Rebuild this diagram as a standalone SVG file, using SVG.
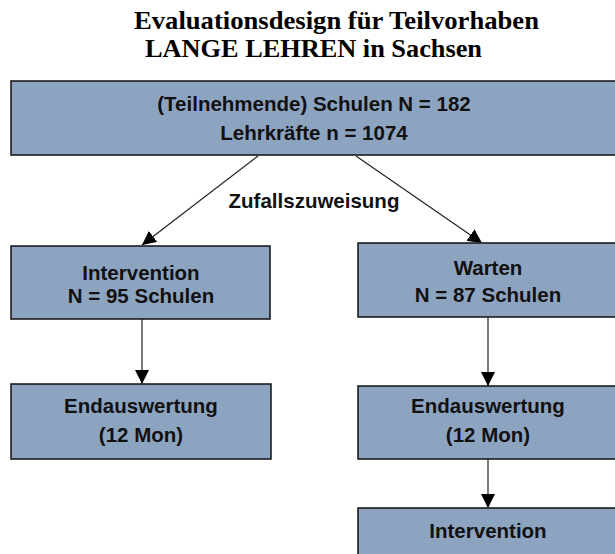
<svg xmlns="http://www.w3.org/2000/svg" width="615" height="554" viewBox="0 0 615 554">
<defs>
<style>
.title{font-family:"Liberation Serif","Times New Roman",serif;font-weight:bold;font-size:25px;fill:#000}
.box{fill:#8DA4C1;stroke:#111;stroke-width:1.5}
.t{font-family:"Liberation Sans",Arial,sans-serif;font-weight:bold;font-size:20.5px;fill:#111;text-anchor:middle}
.c{stroke:#222;stroke-width:1.2;fill:none}
</style>
<marker id="ah" viewBox="0 0 10 10" refX="10" refY="5" markerWidth="14" markerHeight="14" markerUnits="userSpaceOnUse" orient="auto">
<path d="M0,0 L10,5 L0,10 Z" fill="#000"/>
</marker>
</defs>
<rect width="615" height="554" fill="#fff"/>
<g id="title">
<text class="title" x="134" y="29" textLength="405" lengthAdjust="spacingAndGlyphs">Evaluationsdesign für Teilvorhaben</text>
<text class="title" x="145" y="57" textLength="337" lengthAdjust="spacingAndGlyphs">LANGE LEHREN in Sachsen</text>
</g>
<g id="connectors">
<line class="c" x1="258" y1="156" x2="142" y2="245" marker-end="url(#ah)"/>
<line class="c" x1="356" y1="156" x2="482" y2="243" marker-end="url(#ah)"/>
<line class="c" x1="142" y1="319" x2="142" y2="384" marker-end="url(#ah)"/>
<line class="c" x1="488" y1="317" x2="488" y2="386" marker-end="url(#ah)"/>
<line class="c" x1="488" y1="459" x2="488" y2="508" marker-end="url(#ah)"/>
<text class="t" x="314" y="208">Zufallszuweisung</text>
</g>
<g id="top">
<rect class="box" x="11" y="81" width="610" height="74"/>
<text class="t" x="314" y="111">(Teilnehmende) Schulen N = 182</text>
<text class="t" x="314" y="140">Lehrkräfte n = 1074</text>
</g>
<g id="intervention">
<rect class="box" x="11" y="246" width="259" height="73"/>
<text class="t" x="141" y="280">Intervention</text>
<text class="t" x="141" y="303">N = 95 Schulen</text>
</g>
<g id="warten">
<rect class="box" x="358" y="243" width="270" height="74"/>
<text class="t" x="488" y="275">Warten</text>
<text class="t" x="488" y="302">N = 87 Schulen</text>
</g>
<g id="end-left">
<rect class="box" x="11" y="384" width="260" height="75"/>
<text class="t" x="141" y="413">Endauswertung</text>
<text class="t" x="141" y="442">(12 Mon)</text>
</g>
<g id="end-right">
<rect class="box" x="358" y="386" width="270" height="73"/>
<text class="t" x="488" y="413">Endauswertung</text>
<text class="t" x="488" y="442">(12 Mon)</text>
</g>
<g id="intervention2">
<rect class="box" x="358" y="508" width="270" height="60"/>
<text class="t" x="488" y="538">Intervention</text>
</g>
</svg>
